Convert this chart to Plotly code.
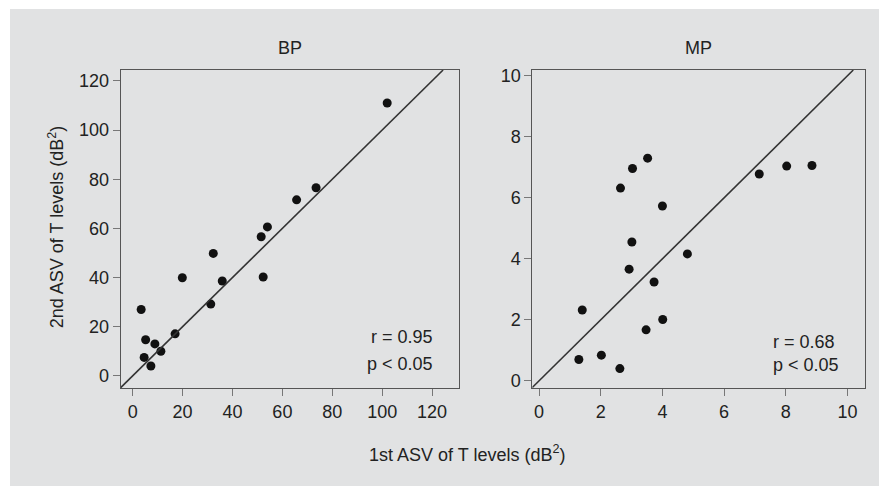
import plotly.graph_objects as go

# ---- data ----
bp_first = [102.0, 73.5, 65.7, 54.0, 51.5, 32.3, 52.3, 19.9, 35.9, 31.3, 3.4, 17.0, 5.2, 8.9, 11.3, 4.6, 7.3]
bp_second = [111.0, 76.5, 71.6, 60.6, 56.6, 49.8, 40.2, 39.9, 38.6, 29.2, 27.0, 17.1, 14.7, 13.0, 10.0, 7.5, 4.0]

mp_first = [3.52, 3.03, 2.64, 4.00, 3.01, 4.81, 2.92, 3.73, 1.40, 4.01, 3.47, 1.29, 2.02, 2.62, 7.14, 8.03, 8.85]
mp_second = [7.30, 6.96, 6.32, 5.73, 4.55, 4.16, 3.66, 3.24, 2.32, 2.01, 1.67, 0.70, 0.84, 0.40, 6.78, 7.04, 7.06]

panel_titles = ["BP", "MP"]
bp_ticks = [0, 20, 40, 60, 80, 100, 120]
mp_ticks = [0, 2, 4, 6, 8, 10]
stats_bp = ["r = 0.95", "p < 0.05"]
stats_mp = ["r = 0.68", "p < 0.05"]
x_title = "1st ASV of T levels (dB<sup>2</sup>)"
y_title = "2nd ASV of T levels (dB<sup>2</sup>)"

# ---- layout constants ----
W, H = 879, 489
BG = "#e1e2e3"
FONT = "Liberation Sans, Arial, Helvetica, sans-serif"
TXT = "#222222"
LINE = "#555555"
TICK = "#777777"

bp_xr = [-4.8, 130.9]
bp_yr = [-5.1, 124.4]
mp_xr = [-0.22, 10.57]
mp_yr = [-0.25, 10.19]

ydom = [1 - 390 / H, 1 - 67 / H]
xdom1 = [120.7 / W, 459.3 / W]
xdom2 = [532.3 / W, 865.0 / W]

fig = go.Figure()

marker = dict(color="#111111", size=9)
fig.add_trace(go.Scatter(x=bp_first, y=bp_second, mode="markers", marker=marker,
                         xaxis="x", yaxis="y", showlegend=False))
fig.add_trace(go.Scatter(x=mp_first, y=mp_second, mode="markers", marker=marker,
                         xaxis="x2", yaxis="y2", showlegend=False))


def identity(xr, yr):
    lo = max(xr[0], yr[0])
    hi = min(xr[1], yr[1])
    return [lo, hi]


for xr, yr, xa, ya in [(bp_xr, bp_yr, "x", "y"), (mp_xr, mp_yr, "x2", "y2")]:
    seg = identity(xr, yr)
    fig.add_trace(go.Scatter(x=seg, y=seg, mode="lines",
                             line=dict(color="#333333", width=1.6),
                             xaxis=xa, yaxis=ya, showlegend=False, hoverinfo="skip"))

tickfont = dict(family=FONT, size=18, color=TXT)


def main_x(dom, rng, ticks, anchor):
    return dict(domain=dom, range=rng, tickvals=ticks, ticks="outside", ticklen=7,
                tickcolor=TICK, tickwidth=1, showline=True, mirror=True,
                linecolor=LINE, linewidth=1, showgrid=False, zeroline=False,
                tickfont=tickfont, anchor=anchor, fixedrange=True)


def main_y(dom, rng, ticks, anchor):
    return dict(domain=dom, range=rng, tickvals=ticks, ticks="outside", ticklen=7,
                tickcolor=TICK, tickwidth=1, showline=True, mirror=True,
                linecolor=LINE, linewidth=1, showgrid=False, zeroline=False,
                tickfont=tickfont, anchor=anchor, fixedrange=True)


def over(rng, ticks, overlay, anchor, side):
    return dict(range=rng, tickvals=ticks, ticks="inside", ticklen=5,
                tickcolor=TICK, tickwidth=1, showline=False, showgrid=False,
                zeroline=False, showticklabels=False, overlaying=overlay,
                anchor=anchor, side=side, fixedrange=True)


fig.update_layout(
    width=W, height=H,
    margin=dict(l=0, r=0, t=0, b=0),
    paper_bgcolor="white",
    plot_bgcolor=BG,
    font=dict(family=FONT, size=18, color=TXT),
    xaxis=main_x(xdom1, bp_xr, bp_ticks, "y"),
    yaxis=main_y(ydom, bp_yr, bp_ticks, "x"),
    xaxis2=main_x(xdom2, mp_xr, mp_ticks, "y2"),
    yaxis2=main_y(ydom, mp_yr, mp_ticks, "x2"),
    xaxis3=over(bp_xr, bp_ticks, "x", "y", "top"),
    yaxis3=over(bp_yr, bp_ticks, "y", "x", "right"),
    xaxis4=over(mp_xr, mp_ticks, "x2", "y2", "top"),
    yaxis4=over(mp_yr, mp_ticks, "y2", "x2", "right"),
    shapes=[dict(type="rect", xref="paper", yref="paper", x0=10 / W, x1=1,
                 y0=0, y1=1 - 5 / H, fillcolor=BG, line=dict(width=0), layer="below")],
)

ann = []
# panel titles
ann.append(dict(text=panel_titles[0], x=290 / W, y=1 - 45 / H, xref="paper", yref="paper",
                showarrow=False, xanchor="center", yanchor="middle", font=dict(size=18)))
ann.append(dict(text=panel_titles[1], x=698.5 / W, y=1 - 45 / H, xref="paper", yref="paper",
                showarrow=False, xanchor="center", yanchor="middle", font=dict(size=18)))
# stats BP (right aligned)
ann.append(dict(text=stats_bp[0], x=121.2, y=15.7, xref="x", yref="y", showarrow=False,
                xanchor="right", yanchor="middle", font=dict(size=18)))
ann.append(dict(text=stats_bp[1], x=121.2, y=4.9, xref="x", yref="y", showarrow=False,
                xanchor="right", yanchor="middle", font=dict(size=18)))
# stats MP (left aligned)
ann.append(dict(text=stats_mp[0], x=7.52, y=1.28, xref="x2", yref="y2", showarrow=False,
                xanchor="left", yanchor="middle", font=dict(size=18)))
ann.append(dict(text=stats_mp[1], x=7.52, y=0.53, xref="x2", yref="y2", showarrow=False,
                xanchor="left", yanchor="middle", font=dict(size=18)))
# axis titles
ann.append(dict(text=x_title, x=467 / W, y=1 - 456 / H, xref="paper", yref="paper",
                showarrow=False, xanchor="center", yanchor="middle", font=dict(size=18)))
ann.append(dict(text=y_title, x=56.5 / W, y=1 - 226 / H, xref="paper", yref="paper",
                showarrow=False, xanchor="center", yanchor="middle", textangle=-90,
                font=dict(size=18)))
fig.update_layout(annotations=ann)

fig.write_html("out.html")
